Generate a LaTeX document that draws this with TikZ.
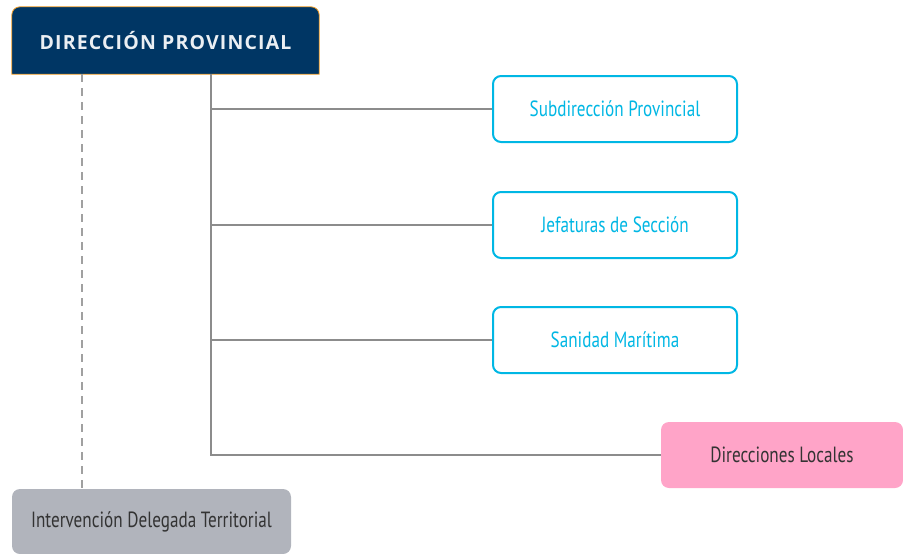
\documentclass[tikz,border=0pt]{standalone}
\usepackage{fontspec}
\setmainfont{Open Sans}
\newfontfamily\narrowfont[FakeStretch=0.78]{PT Sans}
\usetikzlibrary{positioning,backgrounds}

\definecolor{navy}{RGB}{0,54,100}
\definecolor{rimorange}{RGB}{245,160,40}
\definecolor{skyline}{RGB}{0,183,228}
\definecolor{linegray}{RGB}{140,140,140}
\definecolor{dashgray}{RGB}{160,160,160}
\definecolor{pinkfill}{RGB}{255,164,200}
\definecolor{greyfill}{RGB}{177,180,188}
\definecolor{darktext}{RGB}{51,51,51}

\begin{document}
\begin{tikzpicture}[x=1pt,y=-1pt,
    boxfont/.style={font=\narrowfont\fontsize{22}{22}\selectfont},
    unit/.style={boxfont,draw=skyline,line width=2pt,rounded corners=8pt,fill=white,
      minimum width=244pt,minimum height=66pt,text=skyline},
    solidbox/.style={boxfont,rounded corners=8pt,text=darktext,minimum height=66pt},
    link/.style={draw=linegray,line width=2pt}]
    \useasboundingbox (0,0) rectangle (903,554);

    % head of the chart, top corners rounded only
    \node[minimum width=307pt,minimum height=67pt,text=white!92!navy,
          font=\bfseries\addfontfeature{LetterSpace=6}\fontsize{19.5}{19.5}\selectfont]
          (direccion) at (165.5,40.5) {DIRECCIÓN PROVINCIAL};
    \begin{scope}[on background layer]
      \filldraw[fill=navy,draw=rimorange,line width=0.8pt]
        (direccion.south west) [rounded corners=8pt] -- (direccion.north west)
        -- (direccion.north east) [sharp corners] -- (direccion.south east) -- cycle;
    \end{scope}

    % units on the right
    \node[unit] (subdir)    at (615,109) {Subdirección Provincial};
    \node[unit] (jefaturas) at (615,225) {Jefaturas de Sección};
    \node[unit] (sanidad)   at (615,340) {Sanidad Marítima};
    \node[solidbox,fill=pinkfill,minimum width=242pt] (locales) at (782,455) {Direcciones Locales};
    \node[solidbox,fill=greyfill,minimum width=279pt,minimum height=65pt]
          (intervencion) at (151.5,521.5) {Intervención Delegada Territorial};

    \coordinate (trunk) at (211,74);
    \coordinate (tap) at (82,74);

    \draw[link] (trunk) |- (locales.west);
    \foreach \n in {subdir,jefaturas,sanidad}
    {
        \draw[link] (trunk |- \n.west) -- (\n.west);
    };
    \draw[link,draw=dashgray,dash pattern=on 8pt off 6pt] (tap) -- (tap |- intervencion.north);
\end{tikzpicture}
\end{document}
